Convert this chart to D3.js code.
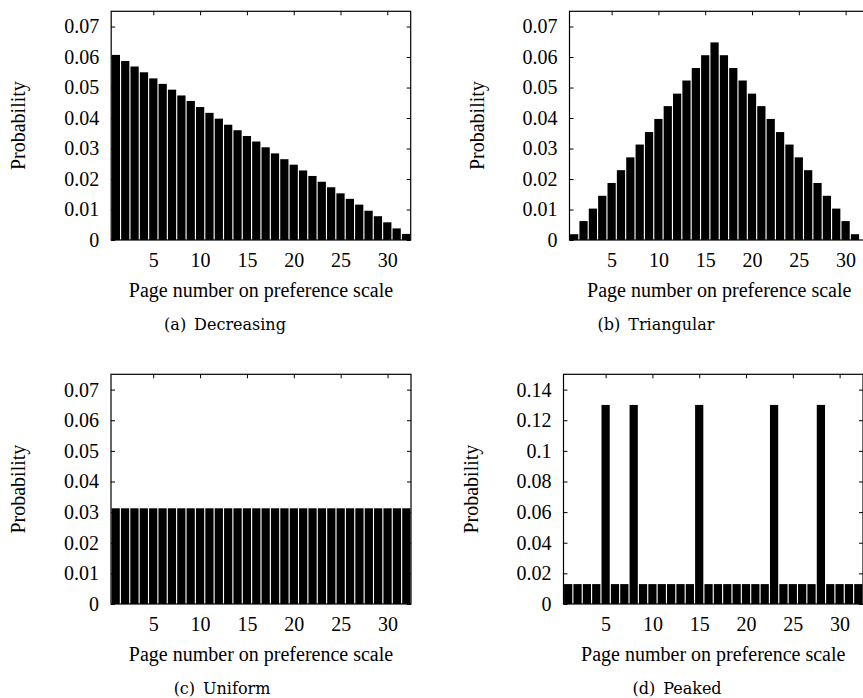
<!DOCTYPE html>
<html>
<head>
<meta charset="utf-8">
<script src="https://cdn.jsdelivr.net/npm/d3@7"></script>
<style>
  body { margin: 0; background: #fff; }
  svg { display: block; }
</style>
</head>
<body>
<div id="chart"></div>
<script>
// page numbers on the preference scale
var pages = [1, 2, 3, 4, 5, 6, 7, 8, 9, 10, 11, 12, 13, 14, 15, 16,
  17, 18, 19, 20, 21, 22, 23, 24, 25, 26, 27, 28, 29, 30, 31, 32];

var decreasing = [0.0607, 0.0587, 0.0569, 0.0550, 0.0530, 0.0512, 0.0493, 0.0474,
  0.0456, 0.0436, 0.0417, 0.0398, 0.0378, 0.0360, 0.0341, 0.0323,
  0.0304, 0.0284, 0.0265, 0.0247, 0.0228, 0.0210, 0.0191, 0.0173,
  0.0153, 0.0135, 0.0116, 0.0096, 0.0078, 0.0058, 0.0038, 0.0020];

var triangular = [0.0019, 0.0062, 0.0103, 0.0145, 0.0187, 0.0229, 0.0271, 0.0313,
  0.0354, 0.0397, 0.0439, 0.0480, 0.0523, 0.0564, 0.0606, 0.0648,
  0.0606, 0.0564, 0.0523, 0.0480, 0.0439, 0.0397, 0.0354, 0.0313,
  0.0271, 0.0229, 0.0187, 0.0145, 0.0103, 0.0062, 0.0019, 0];

var uniform = [0.03125, 0.03125, 0.03125, 0.03125, 0.03125, 0.03125, 0.03125, 0.03125,
  0.03125, 0.03125, 0.03125, 0.03125, 0.03125, 0.03125, 0.03125, 0.03125,
  0.03125, 0.03125, 0.03125, 0.03125, 0.03125, 0.03125, 0.03125, 0.03125,
  0.03125, 0.03125, 0.03125, 0.03125, 0.03125, 0.03125, 0.03125, 0.03125];

var peaked = [0.013, 0.013, 0.013, 0.013, 0.13, 0.013, 0.013, 0.13,
  0.013, 0.013, 0.013, 0.013, 0.013, 0.013, 0.13, 0.013,
  0.013, 0.013, 0.013, 0.013, 0.013, 0.013, 0.13, 0.013,
  0.013, 0.013, 0.013, 0.13, 0.013, 0.013, 0.013, 0.013];

var xTicks = [5, 10, 15, 20, 25, 30];
var yTicksSmall = [0, 0.01, 0.02, 0.03, 0.04, 0.05, 0.06, 0.07];
var yTicksLarge = [0, 0.02, 0.04, 0.06, 0.08, 0.1, 0.12, 0.14];

var xLabel = "Page number on preference scale";
var yLabel = "Probability";

var panels = [
  { values: decreasing, caption: "(a)\u2002Decreasing", yMax: 0.075, yTicks: yTicksSmall,
    left: 111.2, right: 410.7, top: 11.3, bottom: 240, capX: 225 },
  { values: triangular, caption: "(b)\u2002Triangular", yMax: 0.075, yTicks: yTicksSmall,
    left: 569.5, right: 869, top: 11.3, bottom: 240, capX: 656 },
  { values: uniform, caption: "(c)\u2002Uniform", yMax: 0.075, yTicks: yTicksSmall,
    left: 111, right: 411, top: 374.3, bottom: 604, capX: 222 },
  { values: peaked, caption: "(d)\u2002Peaked", yMax: 0.15, yTicks: yTicksLarge,
    left: 563.5, right: 863, top: 374.3, bottom: 604, capX: 677 }
];

var W = 863, H = 698;
var serif = "'Liberation Serif', 'Times New Roman', serif";
var fmt = d3.format("~g");
var tick = 4;

var svg = d3.select("#chart")
  .append("svg")
  .attr("width", W)
  .attr("height", H);

panels.forEach(function (p) {
  var x = d3.scaleLinear().domain([0.5, 32.5]).range([p.left, p.right]);
  var y = d3.scaleLinear().domain([0, p.yMax]).range([p.bottom, p.top]);
  var g = svg.append("g");

  // bars
  g.selectAll("rect.bar")
    .data(pages)
    .enter()
    .append("rect")
    .attr("class", "bar")
    .attr("x", function (d) { return x(d - 0.44); })
    .attr("width", function (d) { return x(d + 0.44) - x(d - 0.44); })
    .attr("y", function (d, i) { return y(p.values[i]); })
    .attr("height", function (d, i) { return y(0) - y(p.values[i]); })
    .attr("fill", "#000");

  // axes with inward ticks, mirrored on the opposite sides
  var left = g.append("g")
    .attr("transform", "translate(" + p.left + ",0)")
    .call(d3.axisLeft(y).tickValues(p.yTicks).tickFormat(fmt).tickSizeInner(-tick).tickSizeOuter(0).tickPadding(12));
  var right = g.append("g")
    .attr("transform", "translate(" + p.right + ",0)")
    .call(d3.axisRight(y).tickValues(p.yTicks).tickFormat("").tickSizeInner(-tick).tickSizeOuter(0));
  var bottom = g.append("g")
    .attr("transform", "translate(0," + p.bottom + ")")
    .call(d3.axisBottom(x).tickValues(xTicks).tickFormat(fmt).tickSizeInner(-tick).tickSizeOuter(0).tickPadding(13));
  var top = g.append("g")
    .attr("transform", "translate(0," + p.top + ")")
    .call(d3.axisTop(x).tickValues(xTicks).tickFormat("").tickSizeInner(-tick).tickSizeOuter(0));

  [left, right, bottom, top].forEach(function (a) {
    a.select(".domain").remove();
    a.attr("font-family", serif).attr("font-size", 20);
    a.selectAll("line").attr("stroke", "#000");
    a.selectAll("text").attr("fill", "#000");
  });

  // frame
  g.append("rect")
    .attr("x", p.left)
    .attr("y", p.top)
    .attr("width", p.right - p.left)
    .attr("height", p.bottom - p.top)
    .attr("fill", "none")
    .attr("stroke", "#000")
    .attr("stroke-width", 1.2);

  g.append("text")
    .attr("transform", "translate(" + (p.left - 86) + "," + ((p.top + p.bottom) / 2) + ") rotate(-90)")
    .attr("text-anchor", "middle")
    .attr("font-family", serif)
    .attr("font-size", 20)
    .text(yLabel);

  g.append("text")
    .attr("x", (p.left + p.right) / 2)
    .attr("y", p.bottom + 56.7)
    .attr("text-anchor", "middle")
    .attr("font-family", serif)
    .attr("font-size", 20)
    .text(xLabel);

  g.append("text")
    .attr("x", p.capX)
    .attr("y", p.bottom + 90)
    .attr("text-anchor", "middle")
    .attr("font-family", "'DejaVu Serif', serif")
    .attr("font-size", 16)
    .text(p.caption);
});
</script>
</body>
</html>
